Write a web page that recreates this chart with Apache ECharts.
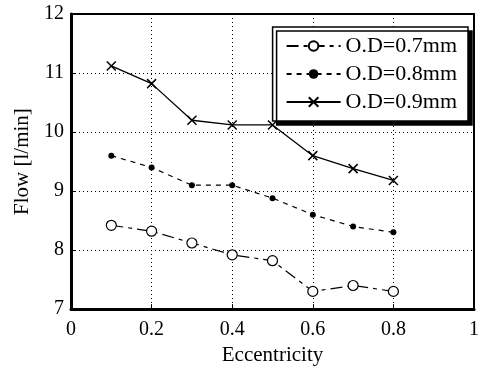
<!DOCTYPE html>
<html>
<head>
<meta charset="utf-8">
<script src="https://cdn.jsdelivr.net/npm/echarts@6/dist/echarts.min.js"></script>
<style>
  html, body { margin: 0; padding: 0; background: #fff; }
  #chart { width: 482px; height: 371px; }
</style>
</head>
<body>
<div id="chart"></div>
<script>
// Flow rate versus eccentricity for three outer diameters
const eccentricity = [0.1, 0.2, 0.3, 0.4, 0.5, 0.6, 0.7, 0.8];
const flowOD07 = [8.42, 8.32, 8.12, 7.92, 7.82, 7.3, 7.4, 7.3];
const flowOD08 = [9.6, 9.4, 9.1, 9.1, 8.88, 8.6, 8.4, 8.3];
const flowOD09 = [11.12, 10.82, 10.2, 10.12, 10.12, 9.6, 9.38, 9.18];
const seriesNames = ['O.D=0.7mm', 'O.D=0.8mm', 'O.D=0.9mm'];
const xTicks = [0, 0.2, 0.4, 0.6, 0.8, 1];
const yTicks = [7, 8, 9, 10, 11, 12];

const serif = '"Liberation Serif", "DejaVu Serif", serif';
const pairs = ys => eccentricity.map((x, i) => [x, ys[i]]);

const chart = echarts.init(document.getElementById('chart'), null, { renderer: 'canvas' });
chart.setOption({
  animation: false,
  backgroundColor: '#fff',
  grid: {
    left: 71, right: 7, top: 14, bottom: 59,
    show: true, borderColor: '#000', borderWidth: 2, backgroundColor: 'transparent'
  },
  xAxis: {
    type: 'value', min: xTicks[0], max: xTicks[xTicks.length - 1], interval: 0.2,
    name: 'Eccentricity', nameLocation: 'middle', nameGap: 34,
    nameTextStyle: { fontFamily: serif, fontSize: 21, color: '#000' },
    axisLine: { show: true, lineStyle: { color: '#000', width: 3 } },
    axisTick: { show: true, inside: true, length: 5, lineStyle: { color: '#000' } },
    axisLabel: { fontFamily: serif, fontSize: 20, color: '#000', margin: 11,
      formatter: v => (v === 0 || v === 1) ? String(v) : v.toFixed(1) },
    splitLine: { show: true, lineStyle: { color: '#000', type: [1, 3], width: 1 } }
  },
  yAxis: {
    type: 'value', min: yTicks[0], max: yTicks[yTicks.length - 1], interval: 1,
    name: 'Flow [l/min]', nameLocation: 'middle', nameGap: 38, nameRotate: 90,
    nameTextStyle: { fontFamily: serif, fontSize: 21, color: '#000' },
    axisLine: { show: true, lineStyle: { color: '#000', width: 3 } },
    axisTick: { show: true, inside: true, length: 5, lineStyle: { color: '#000' } },
    axisLabel: { fontFamily: serif, fontSize: 20, color: '#000', margin: 7 },
    splitLine: { show: true, lineStyle: { color: '#000', type: [1, 3], width: 1 } }
  },
  legend: {
    data: seriesNames,
    orient: 'vertical',
    right: 14, top: 27,
    itemWidth: 54, itemHeight: 12, itemGap: 6,
    padding: [8, 11, 8, 13],
    backgroundColor: '#fff',
    borderColor: '#000', borderWidth: 1.5,
    shadowColor: '#000', shadowBlur: 0, shadowOffsetX: 4, shadowOffsetY: 4,
    textStyle: { fontFamily: serif, fontSize: 22, color: '#000' }
  },
  series: [
    {
      name: seriesNames[0], type: 'line', data: pairs(flowOD07),
      symbol: 'circle', symbolSize: 10,
      itemStyle: { color: '#fff', borderColor: '#000', borderWidth: 1.2 },
      lineStyle: { color: '#000', width: 1.2, type: [12, 5, 4, 5] }
    },
    {
      name: seriesNames[1], type: 'line', data: pairs(flowOD08),
      symbol: 'circle', symbolSize: 6,
      itemStyle: { color: '#000', borderColor: '#000', borderWidth: 0 },
      lineStyle: { color: '#000', width: 1.2, type: [5, 5] }
    },
    {
      name: seriesNames[2], type: 'line', data: pairs(flowOD09),
      symbol: 'path://M0,0 L10,10 M10,0 L0,10', symbolSize: 9,
      itemStyle: { color: 'transparent', borderColor: '#000', borderWidth: 1.5 },
      lineStyle: { color: '#000', width: 1.3, type: 'solid' }
    }
  ]
});
</script>
</body>
</html>
